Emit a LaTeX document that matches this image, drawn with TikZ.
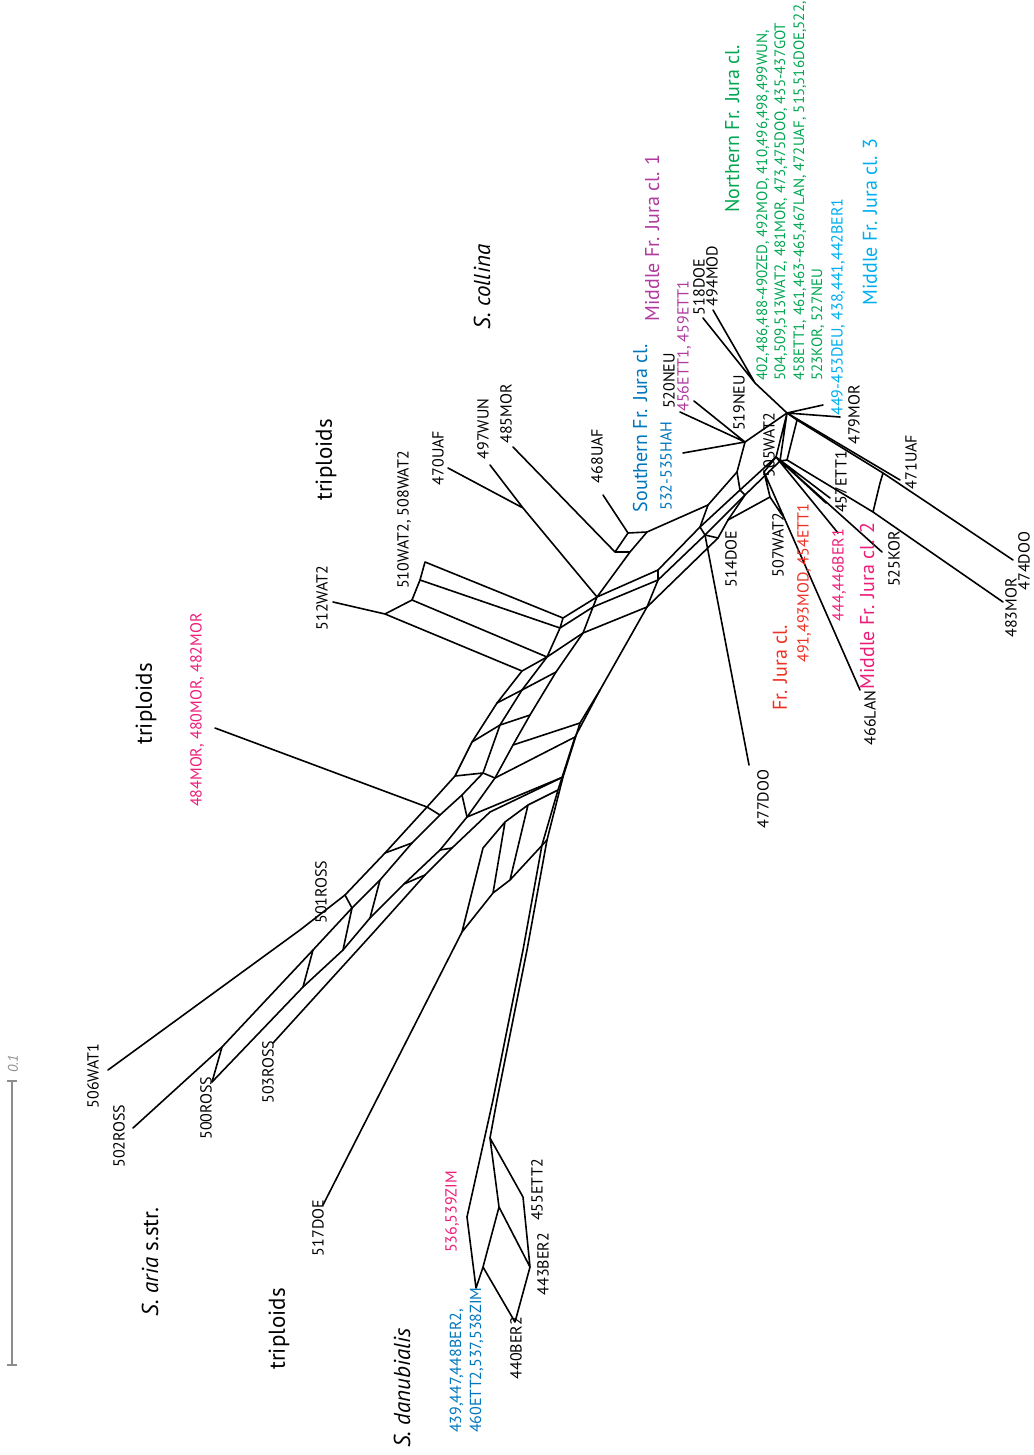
\documentclass[tikz,border=0pt]{standalone}
\usepackage{fontspec}
\setmainfont{PT Sans}
\definecolor{cblue}{RGB}{0,118,189}
\definecolor{cmag}{RGB}{176,58,158}
\definecolor{cpink}{RGB}{236,30,121}
\definecolor{cred}{RGB}{238,49,36}
\definecolor{cgreen}{RGB}{0,166,81}
\definecolor{ccyan}{RGB}{0,174,239}
\definecolor{cgray}{RGB}{140,140,140}
\begin{document}
\begin{tikzpicture}[x=1pt,y=-1pt,
  edge/.style={line width=1.6pt, line join=round, line cap=round},
  lab/.style={rotate=90, inner sep=0pt, font=\fontsize{16}{16}\selectfont},
  glab/.style={rotate=90, inner sep=0pt, anchor=base west, text=cgreen, font=\fontsize{15}{15}\selectfont},
  big/.style={rotate=90, inner sep=0pt, font=\fontsize{20}{20}\selectfont},
  huge/.style={rotate=90, inner sep=0pt, font=\fontsize{23}{23}\selectfont}]
\useasboundingbox (0,0) rectangle (1033,1455);
% ---------- coordinates: Jura part
\coordinate (H1) at (787,413);
\coordinate (J494) at (755,383);
\coordinate (e518) at (703,318);
\coordinate (e494) at (713,310);
\coordinate (e449) at (823,405);
\coordinate (e479) at (840,417);
\coordinate (e471) at (900,480);
\coordinate (P1) at (797,420);
\coordinate (P2) at (787,460);
\coordinate (Q1) at (883,473);
\coordinate (Q1b) at (880,483);
\coordinate (Q2) at (873,512);
\coordinate (e474) at (1013,560);
\coordinate (e483) at (1003,602);
\coordinate (H2) at (776,457);
\coordinate (H2b) at (780,461);
\coordinate (H3) at (764,472);
\coordinate (J1) at (745,442);
\coordinate (e520) at (694,401);
\coordinate (e456) at (680,412);
\coordinate (e532) at (683,453);
\coordinate (e457) at (830,498);
\coordinate (e457b) at (826,503);
\coordinate (e444) at (838,533);
\coordinate (e525) at (882,552);
\coordinate (X1) at (770,497);
\coordinate (X2) at (728,520);
\coordinate (e507) at (782,515);
\coordinate (e466) at (860,690);
\coordinate (e477) at (749,765);
% bundle
\coordinate (k1a) at (737,472);
\coordinate (k1b) at (708,505);
\coordinate (k2a) at (658,570);
\coordinate (k2b) at (700,527);
\coordinate (k2c) at (740,490);
\coordinate (k3a) at (658,580);
\coordinate (k3b) at (705,535);
\coordinate (k3c) at (745,495);
\coordinate (k4a) at (647,607);
\coordinate (k4b) at (718,538);
% triploid groups
\coordinate (e470) at (448,468);
\coordinate (e497) at (490,465);
\coordinate (e485) at (513,447);
\coordinate (e468) at (603,495);
\coordinate (M1) at (523,508);
\coordinate (A) at (615,552);
\coordinate (B) at (628,533);
\coordinate (C) at (647,532);
\coordinate (D) at (630,552);
\coordinate (N1) at (597,597);
\coordinate (N2) at (593,607);
\coordinate (N3) at (583,633);
\coordinate (e512) at (333,602);
\coordinate (T1) at (385,614);
\coordinate (T2) at (522,671);
\coordinate (L1) at (425,562);
\coordinate (L2) at (420,580);
\coordinate (L3) at (412,600);
\coordinate (R1) at (563,618);
\coordinate (R2) at (560,628);
\coordinate (R3) at (547,657);
\coordinate (e484) at (215,728);
% spine
\coordinate (o1a) at (497,703);
\coordinate (o1b) at (472,742);
\coordinate (o1c) at (455,776);
\coordinate (o1d) at (427,807);
\coordinate (o1e) at (385,853);
\coordinate (o1f) at (345,895);
\coordinate (o1g) at (300,930);
\coordinate (e506) at (108,1070);
\coordinate (o2a) at (522,690);
\coordinate (o2b) at (500,725);
\coordinate (o2c) at (483,773);
\coordinate (o2d) at (462,795);
\coordinate (o2e) at (440,815);
\coordinate (o2f) at (412,843);
\coordinate (o2g) at (380,880);
\coordinate (o2h) at (352,908);
\coordinate (o2i) at (313,950);
\coordinate (o2j) at (222,1047);
\coordinate (e502) at (133,1128);
\coordinate (o3a) at (556,672);
\coordinate (o3b) at (530,715);
\coordinate (o3c) at (513,745);
\coordinate (o3d) at (495,778);
\coordinate (o3e) at (467,817);
\coordinate (o3f) at (440,850);
\coordinate (o3g) at (404,884);
\coordinate (o3h) at (370,918);
\coordinate (o3i) at (343,950);
\coordinate (o3j) at (303,987);
\coordinate (e500) at (212,1082);
\coordinate (o4a) at (490,812);
\coordinate (o4b) at (452,848);
\coordinate (o4c) at (425,875);
\coordinate (o4d) at (373,933);
\coordinate (e503) at (273,1043);
\coordinate (d1a) at (600,690);
\coordinate (d1b) at (580,723);
\coordinate (d1c) at (563,777);
\coordinate (d1d) at (547,840);
\coordinate (d1e) at (527,950);
\coordinate (d1f) at (497,1100);
\coordinate (d2b) at (575,737);
\coordinate (d2c) at (558,790);
\coordinate (d2d) at (542,845);
\coordinate (d2e) at (523,950);
\coordinate (d2f) at (493,1100);
\coordinate (ea) at (528,805);
\coordinate (eb) at (505,822);
\coordinate (ec) at (483,848);
\coordinate (fa) at (510,880);
\coordinate (fb) at (493,893);
\coordinate (fz) at (462,932);
\coordinate (e517) at (323,1205);
% danubialis
\coordinate (dK) at (490,1138);
\coordinate (db) at (467,1217);
\coordinate (dc) at (499,1207);
\coordinate (dd) at (523,1197);
\coordinate (de) at (483,1267);
\coordinate (df) at (530,1267);
\coordinate (dg) at (476,1288);
\coordinate (dh) at (515,1322);
% ---------- edges
\draw[edge] (H1)--(J494) (J494)--(e518) (J494)--(e494) (H1)--(e449) (H1)--(e479) (H1)--(e471);
\draw[edge] (H1)--(P1)--(Q1)--(e474) (P1)--(P2)--(Q2)--(e483) (Q1)--(Q1b)--(Q2);
\draw[edge] (H1)--(H2) (H1)--(H2b) (P2)--(H2b);
\draw[edge] (H1)--(J1) (J1)--(e520) (J1)--(e456) (J1)--(e532);
\draw[edge] (H2)--(e457) (H2)--(e457b) (H2)--(e444) (H2)--(e525) (H2)--(H3) (H3)--(X1)--(e507) (H3)--(e466);
\draw[edge] (J1)--(k1a)--(k1b)--(C);
\draw[edge] (N1)--(k2a)--(k2b)--(k2c)--(H2);
\draw[edge] (N2)--(k3a)--(k3b)--(k3c)--(H2b);
\draw[edge] (N3)--(k4a)--(k4b)--(X2)--(X1);
\draw[edge] (k1a)--(k2c) (k1b)--(k2b) (k2c)--(k3c) (k2b)--(k3b) (k3b)--(k4b) (X2)--(k3c) (k2a)--(k3a) (k3a)--(k4a);
\draw[edge] (k3b)--(e477);
% triploids 470-468
\draw[edge] (e470)--(M1) (e497)--(M1)--(N1) (e485)--(A) (e468)--(B) (A)--(B)--(C)--(D)--(A) (D)--(N1);
% triploids 510-512
\draw[edge] (e512)--(T1)--(L3) (T1)--(T2)--(R3) (L1)--(L2)--(L3) (L1)--(R1) (L2)--(R2) (L3)--(R3)
  (R1)--(R2)--(R3) (R1)--(N1) (R2)--(N2) (R3)--(N3) (N1)--(N2)--(N3);
% spine
\draw[edge] (T2)--(o1a)--(o1b)--(o1c)--(o1d)--(o1e)--(o1f)--(o1g)--(e506);
\draw[edge] (R3)--(o2a)--(o2b)--(o2c)--(o2d)--(o2e)--(o2f)--(o2g)--(o2h)--(o2i)--(o2j)--(e502);
\draw[edge] (N3)--(o3a)--(o3b)--(o3c)--(o3d)--(o3e)--(o3f)--(o3g)--(o3h)--(o3i)--(o3j)--(e500);
\draw[edge] (d1c)--(o4a)--(o4b)--(o4c)--(o4d)--(e503);
\draw[edge] (k4a)--(d1a)--(d1b)--(d1c)--(d1d)--(d1e)--(d1f)--(dK);
\draw[edge] (d1a)--(d2b)--(d2c)--(d2d)--(d2e)--(d2f)--(db);
\draw[edge] (o1a)--(o2a) (o1b)--(o2b) (o2a)--(o3a) (o2b)--(o3b) (o1c)--(o2c) (o2c)--(o3d)
  (d1b)--(o3c) (d2b)--(o3d) (d1c)--(o3e) (o1d)--(o2e) (o2d)--(o3e) (o1e)--(o2f)
  (o3f)--(o4b) (o3g)--(o4c) (o1f)--(o2h) (o2g)--(o3h) (o2h)--(o3i) (o2i)--(o3j) (o2j)--(e500);
\draw[edge] (e484)--(o1d);
% 517 ladder
\draw[edge] (d2c)--(ea)--(eb)--(ec)--(fz) (d1d)--(fa)--(fb)--(fz) (ea)--(fa) (eb)--(fb) (fz)--(e517);
% danubialis
\draw[edge] (dK)--(dd)--(df) (dK)--(dc)--(df) (dc)--(de) (db)--(dg)--(de) (de)--(dh) (df)--(dh);
% ---------- scale bar
\coordinate (sb1) at (12,1081);
\coordinate (sb2) at (12,1365);
\draw[cgray, line width=1.3pt] (sb1)--(sb2) ([xshift=-5pt]sb1)--([xshift=5pt]sb1) ([xshift=-5pt]sb2)--([xshift=5pt]sb2);
\node[lab, text=cgray, font=\fontsize{14}{14}\selectfont\itshape] (sc) at (13,1064) {0.1};
% ---------- small black labels
\node[lab] (l518) at (699,287) {518DOE};
\node[lab] (l494) at (712,276) {494MOD};
\node[lab] (l520) at (669,381) {520NEU};
\node[lab] (l519) at (739,403) {519NEU};
\node[lab] (l505) at (769,445) {505WAT2};
\node[lab] (l507) at (778,545) {507WAT2};
\node[lab] (l514) at (731,559) {514DOE};
\node[lab] (l477) at (763,799) {477DOO};
\node[lab] (l457) at (841,482) {457ETT1};
\node[lab] (l479) at (854,415) {479MOR};
\node[lab] (l471) at (911,462) {471UAF};
\node[lab] (l474) at (1024,561) {474DOO};
\node[lab] (l483) at (1011,608) {483MOR};
\node[lab] (l525) at (894,559) {525KOR};
\node[lab] (l466) at (870,718) {466LAN};
\node[lab] (l470) at (438,458) {470UAF};
\node[lab] (l497) at (483,429) {497WUN};
\node[lab] (l485) at (506,414) {485MOR};
\node[lab] (l468) at (597,456) {468UAF};
\node[lab] (l510) at (404,520) {510WAT2, 508WAT2};
\node[lab] (l512) at (322,598) {512WAT2};
\node[lab] (l501) at (321,892) {501ROSS};
\node[lab] (l506) at (93,1076) {506WAT1};
\node[lab] (l502) at (119,1136) {502ROSS};
\node[lab] (l500) at (206,1108) {500ROSS};
\node[lab] (l503) at (268,1072) {503ROSS};
\node[lab] (l517) at (318,1228) {517DOE};
\node[lab] (l455) at (537,1190) {455ETT2};
\node[lab] (l443) at (543,1264) {443BER2};
\node[lab] (l440) at (516,1348) {440BER2};
% ---------- coloured small labels
\node[lab, text=cmag] (l456) at (684,346) {456ETT1, 459ETT1};
\node[lab, text=cblue] (l532) at (666,466) {532-535HAH};
\node[lab, text=ccyan] (l449) at (838,307) {449-453DEU, 438,441,442BER1};
\node[lab, text=cred] (l491) at (804,583) {491,493MOD, 454ETT1};
\node[lab, text=cpink] (l444) at (839,575) {444,446BER1};
\node[lab, text=cpink] (l536) at (452,1212) {536,539ZIM};
\node[lab, text=cpink] (l484) at (197,710) {484MOR, 480MOR, 482MOR};
\node[lab, text=cblue, anchor=base west] (l439) at (461,1433) {439,447,448BER2,};
\node[lab, text=cblue, anchor=base west] (l460) at (481,1433) {460ETT2,537,538ZIM};
\node[glab] (g1) at (767,381) {402,486,488-490ZED, 492MOD, 410,496,498,499WUN,};
\node[glab] (g2) at (785,381) {504,509,513WAT2, 481MOR, 473,475DOO, 435-437GOT};
\node[glab] (g3) at (804,381) {458ETT1, 461,463-465,467LAN, 472UAF, 515,516DOE,522,};
\node[glab] (g4) at (822,381) {523KOR, 527NEU};
% ---------- group labels
\node[big, text=cgreen] (gN) at (732,129) {Northern Fr. Jura cl.};
\node[big, text=cmag] (gM1) at (652,238) {Middle Fr. Jura cl. 1};
\node[big, text=cblue] (gS) at (640,428) {Southern Fr. Jura cl.};
\node[big, text=ccyan] (gM3) at (870,222) {Middle Fr. Jura cl. 3};
\node[big, text=cred] (gF) at (780,668) {Fr. Jura cl.};
\node[big, text=cpink] (gM2) at (867,606) {Middle Fr. Jura cl. 2};
\node[huge] (gC) at (482,287) {\itshape S. collina};
\node[huge] (gT1) at (326,460) {triploids};
\node[huge] (gT2) at (146,704) {triploids};
\node[huge] (gT3) at (279,1329) {triploids};
\node[huge] (gA) at (150,1262) {{\itshape S. aria} s.str.};
\node[huge] (gD) at (402,1388) {\itshape S. danubialis};
\end{tikzpicture}
\end{document}
